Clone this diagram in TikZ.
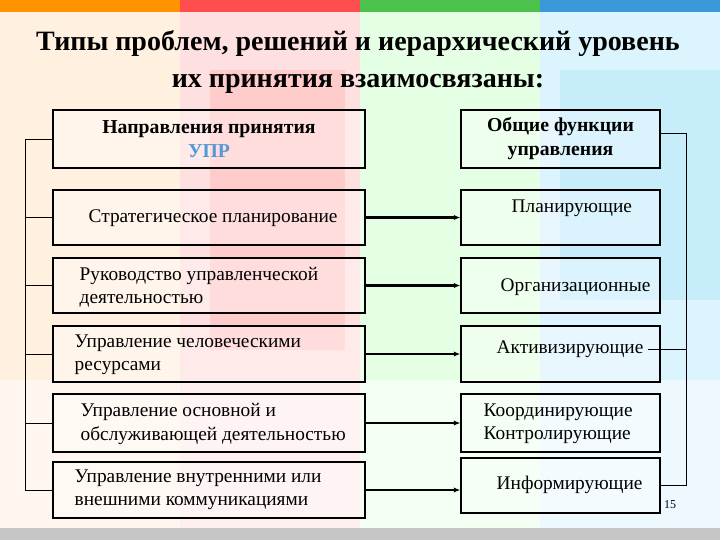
\documentclass[tikz,border=0pt]{standalone}
\usepackage{fontspec}
\setmainfont{Liberation Serif}
\usetikzlibrary{arrows.meta}
\begin{document}
\begin{tikzpicture}[x=0.75pt,y=-0.75pt,
  box/.style={draw,line width=0.8pt,fill=white,fill opacity=0.35,text opacity=1,inner sep=0pt},
  hbox/.style={draw,line width=2.2pt,fill=white,fill opacity=0.35,text opacity=1,inner sep=0pt,font=\bfseries\fontsize{14.8}{18}\selectfont,align=center},
  txt/.style={font=\fontsize{14.5}{17.5}\selectfont,align=left,anchor=west},
  arr/.style={line width=1.6pt,-{Latex[length=5pt,width=4pt]}},
  br/.style={line width=0.7pt}]
\useasboundingbox (0,0) rectangle (720,540);
% background
\fill[orange!12] (0,0) rectangle (180,540);
\fill[red!12] (180,0) rectangle (360,540);
\fill[green!10] (360,0) rectangle (540,540);
\fill[cyan!14] (540,0) rectangle (720,540);
\fill[red!20] (210,70) rectangle (345,350);
\fill[cyan!22] (560,70) rectangle (720,300);
\fill[white,opacity=0.5] (0,380) rectangle (720,528);
\fill[orange!85!yellow] (0,0) rectangle (180,12);
\fill[red!70!white] (180,0) rectangle (360,12);
\fill[green!65!black!70!white] (360,0) rectangle (540,12);
\fill[cyan!70!blue!80] (540,0) rectangle (720,12);
\fill[gray!45] (0,528) rectangle (720,540);
% title
\node[font=\bfseries\fontsize{21}{28}\selectfont,align=center] (title) at (358,62) {Типы проблем, решений и иерархический уровень\\их принятия взаимосвязаны:};
% headers
\node[hbox,minimum width=234pt,minimum height=43.5pt] (L0) at (209,139) {Направления принятия\\\textcolor{cyan!60!blue!70}{УПР}};
\node[hbox,minimum width=149.25pt,minimum height=43.5pt] (R0) at (560.5,139) {Общие функции\\управления};
% left boxes
\foreach \n/\ya/\yb in {1/190/245,2/258/313,3/326/382,4/394/452,5/462/518}{
  \node[box,minimum width=234pt,minimum height={(\yb-\ya)*0.75pt}] (L\n) at (209,{(\ya+\yb)/2}) {};
}
\foreach \n/\ya/\yb in {1/190/245,2/258/313,3/326/382,4/394/452,5/458/513}{
  \node[box,minimum width=149.25pt,minimum height={(\yb-\ya)*0.75pt}] (R\n) at (560.5,{(\ya+\yb)/2}) {};
}
\node[txt] (t1) at (84,218) {Стратегическое планирование};
\node[txt] (t2) at (75,287) {Руководство управленческой\\деятельностью};
\node[txt] (t3) at (70,355) {Управление человеческими\\ресурсами};
\node[txt] (t4) at (76,424) {Управление основной и\\обслуживающей деятельностью};
\node[txt] (t5) at (70,490) {Управление внутренними или\\внешними коммуникациями};
\node[txt] (u1) at (507,208) {Планирующие};
\node[txt] (u2) at (496,287) {Организационные};
\node[txt] (u3) at (492,349) {Активизирующие};
\node[txt] (u4) at (479,424) {Координирующие\\Контролирующие};
\node[txt] (u5) at (492,485) {Информирующие};
\node[font=\fontsize{9}{10}\selectfont] (pg) at (670,505) {15};
% arrows
\foreach \n in {1,...,5}{ \draw[arr] (L\n.east) -- (L\n.east -| R\n.west); }
% left bracket
\coordinate (lt) at (25,139); \coordinate (lb) at (25,490);
\draw[br] (L0.west) -- (lt) -- (lb) -- (L5.west);
\foreach \n in {1,...,4}{ \draw[br] (L\n.west) -- (L\n.west -| lt); }
% right bracket
\coordinate (rt) at (686,133); \coordinate (rb) at (686,485);
\draw[br] (R0.east |- rt) -- (rt) -- (rb) -- (R5.east |- rb);
\draw[br] (u3.east) -- (u3.east -| rt);
\end{tikzpicture}
\end{document}
